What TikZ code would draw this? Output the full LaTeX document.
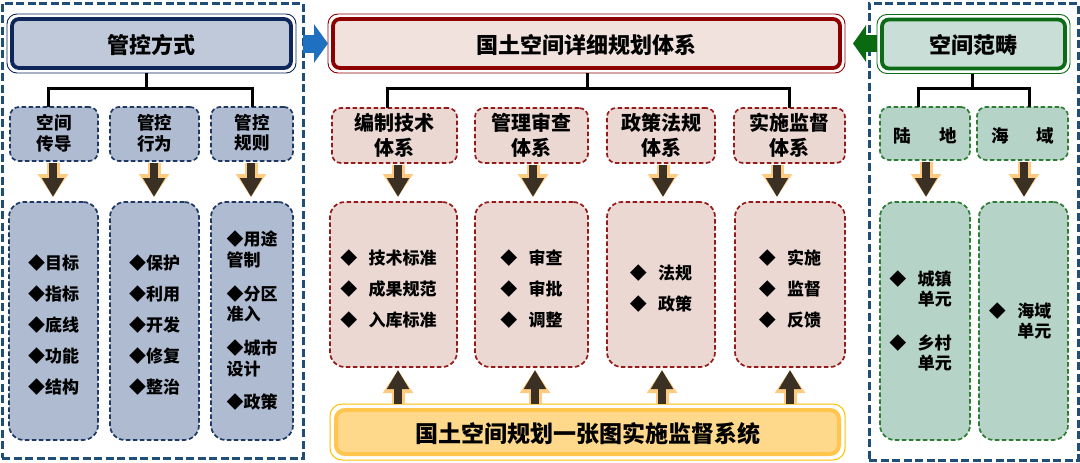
\documentclass[tikz,border=0pt]{standalone}
\usepackage{fontspec}
\setmainfont{Noto Sans CJK SC}
\usetikzlibrary{arrows.meta}
\definecolor{pnav}{HTML}{1F4E79}
\definecolor{ltfill}{HTML}{BFC9DA}
\definecolor{ltline}{HTML}{0E2659}
\definecolor{lsfill}{HTML}{AEBBD0}
\definecolor{lsline}{HTML}{1F3864}
\definecolor{mtfill}{HTML}{F2E2DE}
\definecolor{mtline}{HTML}{8E0000}
\definecolor{msfill}{HTML}{EBD8D3}
\definecolor{msline}{HTML}{951B1B}
\definecolor{rtfill}{HTML}{C8DED6}
\definecolor{rtline}{HTML}{0B6B16}
\definecolor{rsfill}{HTML}{B6D3C7}
\definecolor{rsline}{HTML}{2F7D34}
\definecolor{yfill}{HTML}{FFD98B}
\definecolor{yline}{HTML}{FFC54D}
\definecolor{youter}{HTML}{FFC000}
\definecolor{barr}{HTML}{3A3124}
\definecolor{glow}{HTML}{FFCB80}
\definecolor{bluea}{HTML}{1F70C1}
\definecolor{greena}{HTML}{0A6A12}
\newcommand\mydown[3]{\path ([xshift=#3]#1.south) coordinate (q1); \draw[blk, shorten <=2pt, shorten >=5pt] (q1) -- (q1 |- #2.north);}
\newcommand\myup[3]{\path ([xshift=#3]#2.south) coordinate (q2); \draw[blk, shorten >=3pt] (q2 |- #1.north) -- (q2);}
\newcommand\lowered[2]{\raisebox{-#1}[\height][\depth]{#2}}
\begin{document}
\begin{tikzpicture}[x=1pt,y=-1pt,
  panel/.style={draw=pnav, line width=3pt, dash pattern=on 8pt off 3.5pt, inner sep=0pt, outer sep=0pt},
  tout/.style={draw=#1, line width=0.9pt, rounded corners=10pt, inner sep=0pt, outer sep=0pt},
  tin/.style={line width=3.8pt, rounded corners=7pt, inner sep=0pt, outer sep=0pt, font=\fontsize{22}{24}\selectfont\bfseries},
  subbox/.style={line width=1.7pt, dash pattern=on 4.5pt off 2.5pt, rounded corners=9pt, inner sep=0pt, outer sep=0pt, align=center, font=\bfseries},
  lowbox/.style={subbox, rounded corners=15pt},
  tree/.style={line width=3pt, draw=black},
  blk/.style={line width=8pt, draw=barr, -{Triangle[length=19pt,width=21pt]},
    preaction={draw=glow, line width=13pt, -{Triangle[length=23pt,width=29pt]}}},
]
\useasboundingbox (0,0) rectangle (1080,463);
\fill[white] (0,0) rectangle (1080,463);

% panels
\node[panel, minimum width=301pt, minimum height=455pt] (lp) at (152.5,230.5) {};
\node[panel, minimum width=209pt, minimum height=457pt] (rp) at (973.5,231.5) {};

% titles
\node[tout=ltline, minimum width=289pt, minimum height=59pt] (lt) at (151.5,43.5) {};
\node[tin, draw=ltline, fill=ltfill, minimum width=279pt, minimum height=49pt] at (lt) {\lowered{1.5pt}{管控方式}};
\node[tout=mtline, minimum width=517pt, minimum height=59pt] (mt) at (586.5,43.5) {};
\node[tin, draw=mtline, fill=mtfill, minimum width=507pt, minimum height=49pt] at (mt) {\lowered{1.5pt}{国土空间详细规划体系}};
\node[tout=rtline, minimum width=193pt, minimum height=59pt] (rt) at (973.5,44) {};
\node[tin, draw=rtline, fill=rtfill, minimum width=183pt, minimum height=49pt] at (rt) {\lowered{1.5pt}{空间范畴}};

% side arrows
\draw[line width=18pt, draw=bluea, -{Triangle[length=14pt,width=38pt]}] (lp.east |- mt.west) -- (mt.west);
\draw[line width=17pt, draw=greena, -{Triangle[length=13pt,width=36pt]}] (rt.west |- mt.east) -- ([xshift=8pt]mt.east);

% sub boxes
\node[subbox, draw=lsline, fill=lsfill, minimum width=88pt, minimum height=54pt, font=\fontsize{17.5}{18.5}\selectfont\bfseries] (ls1) at (54,134) {\lowered{1pt}{\begin{tabular}{@{}c@{}}空间\\传导\end{tabular}}};
\node[subbox, draw=lsline, fill=lsfill, minimum width=89pt, minimum height=54pt, font=\fontsize{17.5}{18.5}\selectfont\bfseries] (ls2) at (154.5,134) {\lowered{1pt}{\begin{tabular}{@{}c@{}}管控\\行为\end{tabular}}};
\node[subbox, draw=lsline, fill=lsfill, minimum width=82pt, minimum height=54pt, font=\fontsize{17.5}{18.5}\selectfont\bfseries] (ls3) at (252,134) {\lowered{1pt}{\begin{tabular}{@{}c@{}}管控\\规则\end{tabular}}};

\node[subbox, draw=msline, fill=msfill, minimum width=125pt, minimum height=55pt, font=\fontsize{20}{25}\selectfont\bfseries] (ms1) at (394.5,135.5) {\lowered{2pt}{\begin{tabular}{@{}c@{}}编制技术\\体系\end{tabular}}};
\node[subbox, draw=msline, fill=msfill, minimum width=113pt, minimum height=55pt, font=\fontsize{20}{25}\selectfont\bfseries] (ms2) at (531.5,135.5) {\lowered{2pt}{\begin{tabular}{@{}c@{}}管理审查\\体系\end{tabular}}};
\node[subbox, draw=msline, fill=msfill, minimum width=108pt, minimum height=55pt, font=\fontsize{20}{25}\selectfont\bfseries] (ms3) at (661,135.5) {\lowered{2pt}{\begin{tabular}{@{}c@{}}政策法规\\体系\end{tabular}}};
\node[subbox, draw=msline, fill=msfill, minimum width=111pt, minimum height=55pt, font=\fontsize{20}{25}\selectfont\bfseries] (ms4) at (789.5,135.5) {\lowered{2pt}{\begin{tabular}{@{}c@{}}实施监督\\体系\end{tabular}}};

\node[subbox, draw=rsline, fill=rsfill, minimum width=90pt, minimum height=53pt, font=\fontsize{17.5}{20}\selectfont\bfseries] (rs1) at (925,133.5) {\lowered{2pt}{陆\hspace{28pt}地}};
\node[subbox, draw=rsline, fill=rsfill, minimum width=91pt, minimum height=53pt, font=\fontsize{17.5}{20}\selectfont\bfseries] (rs2) at (1022.5,133.5) {\lowered{2pt}{海\hspace{28pt}域}};

% tree connectors
\coordinate (lj) at (146,88);
\draw[tree] (lj |- lt.south) -- (lj);
\draw[tree] ([xshift=-6pt]ls1.north) |- (lj) -| (ls3.north);
\coordinate (mj) at (587,88);
\draw[tree] (mj |- mt.south) -- (mj);
\draw[tree] ([xshift=-7.5pt]ms1.north) |- (mj) -| (ms4.north);
\coordinate (rj) at (972,88);
\draw[tree] (rj |- rt.south) -- (rj);
\draw[tree] ([xshift=-7pt]rs1.north) |- (rj) -| ([xshift=6.5pt]rs2.north);

% lower boxes
\node[lowbox, draw=lsline, fill=lsfill, minimum width=89pt, minimum height=238pt, font=\fontsize{17}{31}\selectfont\bfseries] (lb1) at (53.5,321) {\lowered{4pt}{\begin{tabular}{@{}c@{}}◆目标\\◆指标\\◆底线\\◆功能\\◆结构\end{tabular}}};
\node[lowbox, draw=lsline, fill=lsfill, minimum width=89pt, minimum height=238pt, font=\fontsize{17}{31}\selectfont\bfseries] (lb2) at (154.5,321) {\lowered{4pt}{\begin{tabular}{@{}c@{}}◆保护\\◆利用\\◆开发\\◆修复\\◆整治\end{tabular}}};
\node[lowbox, draw=lsline, fill=lsfill, minimum width=82pt, minimum height=238pt, font=\fontsize{17}{20}\selectfont\bfseries] (lb3) at (252,321) {\lowered{2pt}{\begin{tabular}{@{}l@{}}◆用途\\管制\\[13pt]◆分区\\准入\\[13pt]◆城市\\设计\\[13pt]◆政策\end{tabular}}};

\node[lowbox, draw=msline, fill=msfill, minimum width=127pt, minimum height=165pt, font=\fontsize{17}{31}\selectfont\bfseries] (mb1) at (393.5,284.5) {\lowered{5pt}{\begin{tabular}{@{}c@{\hspace{11.5pt}}l@{\hspace{10pt}}}◆&技术标准\\◆&成果规范\\◆&入库标准\end{tabular}}};
\node[lowbox, draw=msline, fill=msfill, minimum width=113pt, minimum height=165pt, font=\fontsize{17}{31}\selectfont\bfseries] (mb2) at (531.5,284.5) {\lowered{5pt}{\begin{tabular}{@{}c@{\hspace{11.5pt}}l@{}}◆&审查\\◆&审批\\◆&调整\end{tabular}}};
\node[lowbox, draw=msline, fill=msfill, minimum width=108pt, minimum height=165pt, font=\fontsize{17}{31}\selectfont\bfseries] (mb3) at (661,284.5) {\lowered{4pt}{\begin{tabular}{@{}c@{\hspace{11.5pt}}l@{}}◆&法规\\◆&政策\end{tabular}}};
\node[lowbox, draw=msline, fill=msfill, minimum width=110pt, minimum height=165pt, font=\fontsize{17}{31}\selectfont\bfseries] (mb4) at (790,284.5) {\lowered{5pt}{\begin{tabular}{@{}c@{\hspace{11.5pt}}l@{}}◆&实施\\◆&监督\\◆&反馈\end{tabular}}};

\node[lowbox, draw=rsline, fill=rsfill, minimum width=90pt, minimum height=238pt, font=\fontsize{17}{20}\selectfont\bfseries] (rb1) at (925,321) {\lowered{2pt}{\begin{tabular}{@{}c@{\hspace{11.5pt}}l@{\hspace{9pt}}}◆&城镇\\&单元\\[23pt]◆&乡村\\&单元\end{tabular}}};
\node[lowbox, draw=rsline, fill=rsfill, minimum width=89pt, minimum height=238pt, font=\fontsize{17}{20}\selectfont\bfseries] (rb2) at (1023.5,321) {\lowered{2pt}{\begin{tabular}{@{}c@{\hspace{11.5pt}}l@{\hspace{7pt}}}◆&海域\\&单元\end{tabular}}};

% yellow system box
\node[draw=youter, line width=1pt, rounded corners=12pt, inner sep=0pt, outer sep=0pt, minimum width=515pt, minimum height=56pt] (yb) at (587.5,432) {};
\node[draw=yline, fill=yfill, line width=4pt, rounded corners=9pt, inner sep=0pt, minimum width=503pt, minimum height=44pt, font=\fontsize{23}{25}\selectfont\bfseries] at (yb) {\lowered{1.5pt}{国土空间规划一张图实施监督系统}};

% down arrows
\mydown{ls1}{lb1}{-1pt}
\mydown{ls2}{lb2}{-0.5pt}
\mydown{ls3}{lb3}{-1pt}
\mydown{ms1}{mb1}{3.5pt}
\mydown{ms2}{mb2}{1.5pt}
\mydown{ms3}{mb3}{2pt}
\mydown{ms4}{mb4}{-12.5pt}
\mydown{rs1}{rb1}{1pt}
\mydown{rs2}{rb2}{1.5pt}

% up arrows
\myup{yb}{mb1}{4.5pt}
\myup{yb}{mb2}{3.5pt}
\myup{yb}{mb3}{1pt}
\myup{yb}{mb4}{0pt}
\end{tikzpicture}
\end{document}
